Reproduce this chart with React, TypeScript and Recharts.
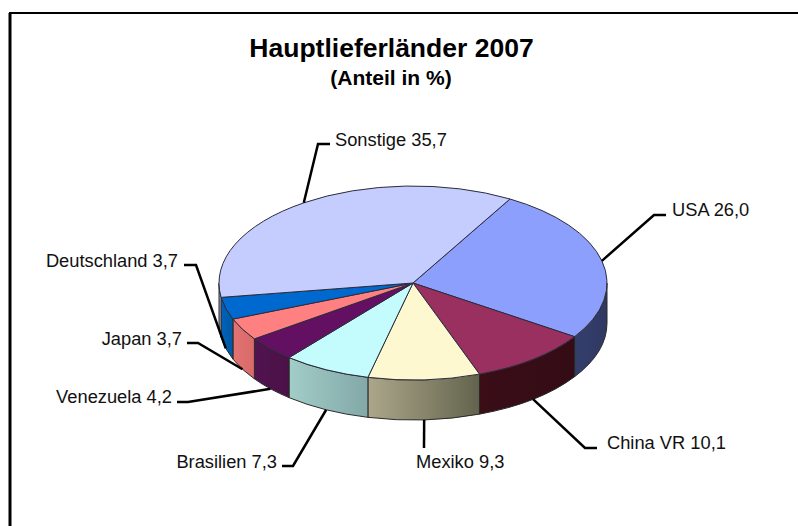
import React from 'react';
import { PieChart, Pie } from 'recharts';

const countries = ['USA', 'China VR', 'Mexiko', 'Brasilien', 'Venezuela', 'Japan', 'Deutschland', 'Sonstige'];
const shares = [26.0, 10.1, 9.3, 7.3, 4.2, 3.7, 3.7, 35.7];
const topColors = ['#8d9ffd', '#993060', '#fdf8d0', '#c4fbfd', '#630f62', '#ff8080', '#0069cf', '#c5cdfe'];
const wallFrom = ['#353f6c', '#3a0d17', '#aca78a', '#a2cdc9', '#521350', '#e47272', '#0062be', '#8b94bc'];
const wallTo = ['#2f3863', '#340c15', '#63634d', '#82a8a7', '#4a1147', '#d86a6a', '#00589f', '#a0a8d0'];

// label text anchor and leader elbow for each slice
const labelSpots = [
  { x: 672, y: 209, anchor: 'start', elbowX: 654, elbowY: 215, endX: 666 },
  { x: 607, y: 442, anchor: 'start', elbowX: 585, elbowY: 448, endX: 597 },
  { x: 416, y: 461, anchor: 'start', elbowX: 424, elbowY: 448, endX: 424 },
  { x: 277, y: 461, anchor: 'end', elbowX: 293, elbowY: 466, endX: 282 },
  { x: 172, y: 396, anchor: 'end', elbowX: 188, elbowY: 402, endX: 177 },
  { x: 182, y: 338, anchor: 'end', elbowX: 198, elbowY: 343, endX: 187 },
  { x: 178, y: 260, anchor: 'end', elbowX: 196, elbowY: 265, endX: 184 },
  { x: 335, y: 139, anchor: 'start', elbowX: 318, elbowY: 144, endX: 330 },
];

const FONT = '"Liberation Sans", Arial, sans-serif';
const SQUASH = 0.5;
const DEPTH = 40;
const RAD = Math.PI / 180;

const data = countries.map((name, i) => ({ name, value: shares[i], index: i, fill: topColors[i] }));

const onEllipse = (cx: number, cy: number, r: number, deg: number) => ({
  x: cx + r * Math.cos(deg * RAD),
  y: cy - r * SQUASH * Math.sin(deg * RAD),
});

const Slice3D = (props: any) => {
  const { cx, cy, outerRadius, startAngle, endAngle, payload } = props;
  const r = outerRadius;
  const ry = r * SQUASH;
  const a = onEllipse(cx, cy, r, startAngle);
  const b = onEllipse(cx, cy, r, endAngle);
  const large = Math.abs(endAngle - startAngle) > 180 ? 1 : 0;
  const top = `M${cx},${cy} L${a.x},${a.y} A${r},${ry} 0 ${large} 1 ${b.x},${b.y} Z`;

  // front wall: the part of the arc facing the viewer (angles -180..0)
  const wallHi = Math.min(startAngle, 0);
  const wallLo = Math.max(endAngle, -180);
  let wall = null;
  if (wallHi > wallLo) {
    const p = onEllipse(cx, cy, r, wallHi);
    const q = onEllipse(cx, cy, r, wallLo);
    const d = `M${p.x},${p.y} A${r},${ry} 0 0 1 ${q.x},${q.y} L${q.x},${q.y + DEPTH} A${r},${ry} 0 0 0 ${p.x},${p.y + DEPTH} Z`;
    const id = `wall-${payload.index}`;
    wall = (
      <>
        <defs>
          <linearGradient id={id} x1="1" x2="0" y1="0" y2="0">
            <stop offset="0%" stopColor={wallTo[payload.index]} />
            <stop offset="100%" stopColor={wallFrom[payload.index]} />
          </linearGradient>
        </defs>
        <path d={d} fill={`url(#${id})`} stroke="#2a2a2a" strokeWidth={1} />
      </>
    );
  }
  return (
    <g>
      {wall}
      <path d={top} fill={topColors[payload.index]} stroke="#2c2c3c" strokeWidth={1} strokeLinejoin="round" />
    </g>
  );
};

const renderLabel = (props: any) => {
  const { cx, cy, outerRadius, midAngle, index } = props;
  const spot = labelSpots[index];
  const p = onEllipse(cx, cy, outerRadius, midAngle);
  // slices facing the viewer start their leader at the bottom of the wall
  const startY = Math.sin(midAngle * RAD) < 0 ? p.y + DEPTH : p.y;
  return (
    <g key={index}>
      <polyline
        points={`${p.x},${startY} ${spot.elbowX},${spot.elbowY} ${spot.endX},${spot.elbowY}`}
        fill="none"
        stroke="#000"
        strokeWidth={2.5}
      />
      <text
        x={spot.x}
        y={spot.y}
        textAnchor={spot.anchor as any}
        dominantBaseline="central"
        fontFamily={FONT}
        fontSize={18.3}
        fill="#111"
      >
        {`${countries[index]} ${shares[index].toFixed(1).replace('.', ',')}`}
      </text>
    </g>
  );
};

export default function App() {
  return (
    <div style={{ position: 'absolute', left: 0, top: 0, width: 798, height: 526, background: '#fff' }}>
      <PieChart width={798} height={526} margin={{ top: 0, right: 0, bottom: 0, left: 0 }}>
        <line x1={10} y1={13} x2={10} y2={526} stroke="#000" strokeWidth={3} />
        <line x1={9} y1={13} x2={798} y2={13} stroke="#000" strokeWidth={2} />
        <text x={391.5} y={48} textAnchor="middle" dominantBaseline="central" fontFamily={FONT} fontWeight="bold" fontSize={26.5} fill="#000">
          Hauptlieferländer 2007
        </text>
        <text x={391} y={77} textAnchor="middle" dominantBaseline="central" fontFamily={FONT} fontWeight="bold" fontSize={21} fill="#000">
          (Anteil in %)
        </text>
        <Pie
          data={data}
          dataKey="value"
          cx={413}
          cy={283}
          innerRadius={0}
          outerRadius={194}
          startAngle={60}
          endAngle={-300}
          stroke="none"
          shape={Slice3D}
          label={renderLabel}
          labelLine={false}
          isAnimationActive={false}
        />
      </PieChart>
    </div>
  );
}
